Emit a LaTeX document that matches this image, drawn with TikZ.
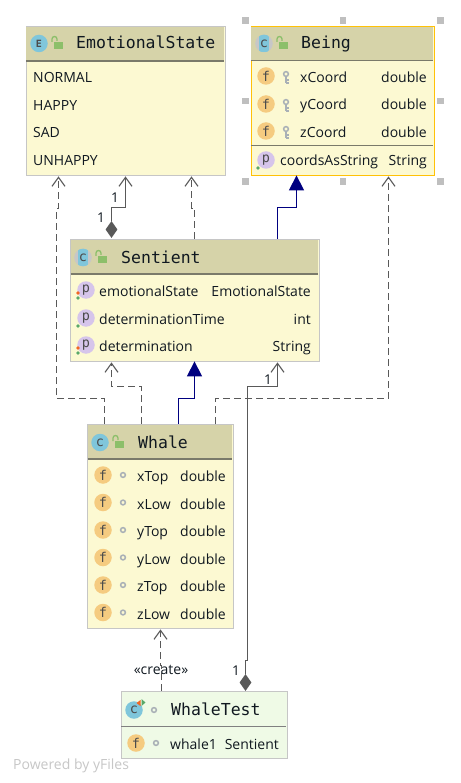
\documentclass[tikz,border=0pt]{standalone}
\usepackage{fontspec}
\setmainfont{Open Sans}
\newfontfamily\titlefont{DejaVu Sans Mono}
\usetikzlibrary{arrows.meta,calc,positioning,shapes.geometric}
\definecolor{hdr}{HTML}{D6D3A9}
\definecolor{body}{HTML}{FCF9D2}
\definecolor{bord}{HTML}{C6C6C6}
\definecolor{sepc}{HTML}{7A7A6A}
\definecolor{sel}{HTML}{FFC107}
\definecolor{testc}{HTML}{EFFAE6}
\definecolor{ink}{HTML}{101820}
\definecolor{lnk}{HTML}{595959}
\definecolor{blu}{HTML}{000080}
\definecolor{ficon}{HTML}{F5CB80}
\definecolor{picon}{HTML}{D6C5EB}
\definecolor{cicon}{HTML}{7FC6DB}
\definecolor{lockc}{HTML}{8CBF6A}
\definecolor{keyc}{HTML}{A9B0B6}
\definecolor{dotg}{HTML}{59A869}
\definecolor{doto}{HTML}{F26522}
\tikzset{
  x=1pt,y=-1pt,
  umlbox/.style={draw=bord,line width=1.4pt,fill=body,inner sep=0pt,anchor=north west},
  titletext/.style={font=\titlefont\fontsize{16.5}{16.5}\selectfont,text=ink,anchor=base west,inner sep=0pt},
  rowtext/.style={font=\fontsize{14}{14}\selectfont,text=ink,anchor=base west,inner sep=0pt},
  rowright/.style={font=\fontsize{14}{14}\selectfont,text=ink,anchor=base east,inner sep=0pt},
  iconcirc/.style={circle,minimum size=17.5pt,inner sep=0pt,text=black!70,font=\titlefont\fontsize{13.5}{13.5}\selectfont},
  handle/.style={fill=black!25,draw=none,minimum size=6.5pt,inner sep=0pt},
  assoc/.style={draw=lnk,line width=1.1pt},
  depend/.style={draw=lnk,line width=1.1pt,dash pattern=on 7pt off 4pt},
  inherit/.style={draw=blu,line width=1.3pt},
  openhead/.style={-{Straight Barb[length=9pt,width=13pt,line width=1.1pt]}},
  solidhead/.style={-{Triangle[length=15pt,width=15pt,fill=blu]}},
  mult/.style={font=\fontsize{13.5}{13.5}\selectfont,text=ink,inner sep=0pt},
  diam/.style={diamond,fill=lnk,draw=none,inner sep=0pt,minimum width=12pt,minimum height=17pt,aspect=0.7},
}
% icon macros: name, x, y
\newcommand{\ficonat}[3]{\node[iconcirc,fill=ficon] (#1) at (#2,#3) {f};}
\newcommand{\piconat}[3]{\node[iconcirc,fill=picon] (#1) at (#2,#3) {p};}
\newcommand{\ciconat}[4]{\node[iconcirc,fill=cicon] (#1) at (#2,#3) {#4};}
% abstract class icon: grey disc with a blue band
\newcommand{\aiconat}[3]{%
  \fill[black!22] (#2,#3) circle[radius=8.8pt];
  \begin{scope}
    \clip (#2,#3) circle[radius=8.8pt];
    \fill[cicon] (#2-5.5,#3-9) rectangle (#2+5,#3+9);
  \end{scope}
  \node[iconcirc] (#1) at (#2,#3) {c};}
\newcommand{\lockat}[2]{%
  \fill[lockc] (#1-4,#2-2) rectangle (#1+5,#2+5);
  \draw[lockc,line width=1.3pt] (#1-6,#2-2) -- (#1-6,#2-5) arc[start angle=180,end angle=0,radius=2.5pt] -- (#1-1,#2-3);}
\newcommand{\keyat}[2]{%
  \draw[keyc,line width=1.5pt] (#1,#2-3) circle[radius=2.4pt];
  \draw[keyc,line width=1.5pt] (#1,#2) -- (#1,#2+6) (#1,#2+3) -- (#1+2.5,#2+3) (#1,#2+6) -- (#1+2.5,#2+6);}
\newcommand{\ringat}[2]{\draw[keyc,line width=1.5pt] (#1,#2) circle[radius=2.4pt];}
\newcommand{\dotgat}[2]{\fill[dotg] (#1,#2) circle[radius=1.9pt];}
\newcommand{\dotoat}[2]{\fill[doto] (#1,#2) circle[radius=1.9pt];}
\begin{document}
\begin{tikzpicture}
\useasboundingbox (0,0) rectangle (460,783);
\fill[white] (0,0) rectangle (460,783);

% ---- EmotionalState
\node[umlbox,minimum width=199pt,minimum height=149pt] (emo) at (25.5,26) {};
\fill[hdr] ([shift={(.7,.7)}]emo.north west) rectangle (224,60.5);
\draw[sepc,line width=1.2pt] (26,61) -- (224,61);
\ciconat{emoi}{39}{43.5}{\bfseries\fontsize{10}{10}\selectfont E}
\lockat{58}{44}
\node[titletext] (emot) at (76,49) {EmotionalState};
\node[rowtext] (emo1) at (33,83) {NORMAL};
\node[rowtext] (emo2) at (33,111) {HAPPY};
\node[rowtext] (emo3) at (33,138) {SAD};
\node[rowtext] (emo4) at (33,166) {UNHAPPY};

% ---- Being
\node[umlbox,draw=sel,minimum width=183pt,minimum height=149pt] (being) at (250.5,26) {};
\fill[hdr] ([shift={(.7,.7)}]being.north west) rectangle (433,60.5);
\draw[sepc,line width=1.2pt] (251,60.5) -- (433,60.5);
\draw[sepc,line width=1.2pt] (251,145.5) -- (433,145.5);
\aiconat{beingi}{264}{43.5}
\lockat{283}{44}
\node[titletext] (beingt) at (301,49) {Being};
\ficonat{b1i}{266}{76}\keyat{286}{77}
\ficonat{b2i}{266}{104}\keyat{286}{105}
\ficonat{b3i}{266}{131}\keyat{286}{132}
\node[rowtext] (b1) at (300,83) {xCoord};
\node[rowtext] (b2) at (300,110) {yCoord};
\node[rowtext] (b3) at (300,138) {zCoord};
\node[rowright] (b1t) at (427,83) {double};
\node[rowright] (b2t) at (427,110) {double};
\node[rowright] (b3t) at (427,138) {double};
\piconat{b4i}{266}{160}\dotgat{258}{168}
\node[rowtext] (b4) at (280,166) {coordsAsString};
\node[rowright] (b4t) at (427,166) {String};
% selection handles
\node[handle] (h1) at (245.5,20.5) {};
\node[handle] (h2) at (343,20.5) {};
\node[handle] (h3) at (440.5,20.5) {};
\node[handle] (h4) at (245.5,101) {};
\node[handle] (h5) at (440.5,101) {};
\node[handle] (h6) at (245.5,181.5) {};
\node[handle] (h7) at (343,181.5) {};
\node[handle] (h8) at (440.5,181.5) {};

% ---- Sentient
\node[umlbox,minimum width=249pt,minimum height=122pt] (sent) at (70,239) {};
\fill[hdr] ([shift={(.7,.7)}]sent.north west) rectangle (318.3,274);
\draw[sepc,line width=1.2pt] (70.7,274) -- (318.3,274);
\aiconat{senti}{83}{257.5}
\lockat{102}{258}
\node[titletext] (sentt) at (121,263) {Sentient};
\piconat{s1i}{86}{290}\dotoat{78}{293}\dotgat{78}{298}
\piconat{s2i}{86}{318}\dotgat{78}{326}
\piconat{s3i}{86}{345}\dotoat{78}{348}\dotgat{78}{353}
\node[rowtext] (s1) at (99,296) {emotionalState};
\node[rowtext] (s2) at (99,324) {determinationTime};
\node[rowtext] (s3) at (99,351) {determination};
\node[rowright] (s1t) at (311,296) {EmotionalState};
\node[rowright] (s2t) at (311,324) {int};
\node[rowright] (s3t) at (311,351) {String};

% ---- Whale
\node[umlbox,minimum width=146pt,minimum height=204pt] (whale) at (87,424) {};
\fill[hdr] ([shift={(.7,.7)}]whale.north west) rectangle (232.3,459);
\draw[sepc,line width=1.2pt] (87.7,459) -- (232.3,459);
\ciconat{whalei}{100}{442.5}{c}
\lockat{119}{443}
\node[titletext] (whalet) at (138,448) {Whale};
\foreach \nm/\yy in {xTop/476,xLow/503.5,yTop/531,yLow/558.5,zTop/586,zLow/613.5}{
  \ficonat{w\nm i}{103}{\yy-1}
  \ringat{123}{\yy-1}
  \node[rowtext] (w\nm) at (137,\yy+5.5) {\nm};
  \node[rowright] (w\nm t) at (226,\yy+5.5) {double};
}

% ---- WhaleTest
\node[umlbox,fill=testc,minimum width=166pt,minimum height=67pt] (wtest) at (120.5,691) {};
\draw[black!50,line width=1.2pt] (121,726.5) -- (286,726.5);
\ciconat{wti}{134}{710}{c}
\fill[doto] (140.5,700) -- (136.5,703) -- (140.5,706) -- cycle;
\fill[dotg] (141.5,699) -- (145.5,702.5) -- (141.5,706) -- cycle;
\ringat{154}{710}
\node[titletext] (wtt) at (171,715) {WhaleTest};
\ficonat{wt1i}{136}{743}
\ringat{156}{743}
\node[rowtext] (wt1) at (170,749) {whale1};
\node[rowright] (wt1t) at (279,749) {Sentient};

% diamonds
\node[diam] (d1) at (111.5,229.5) {};
\node[diam] (d2) at (245.5,682.5) {};

% ---- Connectors
% Whale -> EmotionalState
\draw[depend,openhead] ([xshift=17.5pt]whale.north west) -- ++(0,-25.5) -- ++(-48,0) -- ++(0,-190) -- ++(2,0) -- ([xshift=33pt]emo.south west);
% Sentient <>-> EmotionalState
\draw[assoc,openhead] (d1.north) -- ++(0,-13.5) -- ++(14,0) -- ([xshift=100pt]emo.south west);
% Sentient -> EmotionalState
\draw[depend,openhead] ([xshift=124.5pt]sent.north west) -- ++(0,-30.5) -- ++(-3,0) -- ([xshift=166pt]emo.south west);
% Sentient -> Being
\draw[inherit,solidhead] ([xshift=207.5pt]sent.north west) -- ++(0,-31.5) -- ++(19,0) -- ([xshift=46pt,yshift=1pt]being.south west);
% Whale -> Being
\draw[depend,openhead] ([xshift=128.5pt]whale.north west) -- ++(0,-25.5) -- ++(173,0) -- ([xshift=138pt]being.south west);
% Whale -> Sentient
\draw[depend,openhead] ([xshift=54.5pt]whale.north west) -- ++(0,-37.5) -- ++(-30,0) -- ([xshift=41.5pt]sent.south west);
% Whale -> Sentient inherit
\draw[inherit,solidhead] ([xshift=91.5pt]whale.north west) -- ++(0,-25.5) -- ++(16,0) -- ([xshift=124.5pt,yshift=1pt]sent.south west);
% WhaleTest <>-> Sentient
\draw[assoc,openhead] (d2.north) -- ++(0,-13.5) -- ++(2,0) -- ++(0,-274) -- ++(30,0) -- ([xshift=207.5pt]sent.south west);
% WhaleTest -> Whale
\draw[depend,openhead] ([xshift=41pt]wtest.north west) -- ++(0,-25.5) -- ++(-1,0) -- ([xshift=73.5pt]whale.south west);
% labels
\node[mult] (m1) at (115,197.5) {1};
\node[mult] (m2) at (101,217.5) {1};
\node[mult] (m3) at (268,380) {1};
\node[mult] (m4) at (236,671) {1};
\node[font=\fontsize{14}{14}\selectfont,text=ink,inner sep=0pt] (crl) at (161,670) {«create»};
\node[font=\fontsize{14}{14}\selectfont,text=black!22,anchor=base west,inner sep=0pt] (pow) at (13,769) {Powered by yFiles};
\end{tikzpicture}
\end{document}
